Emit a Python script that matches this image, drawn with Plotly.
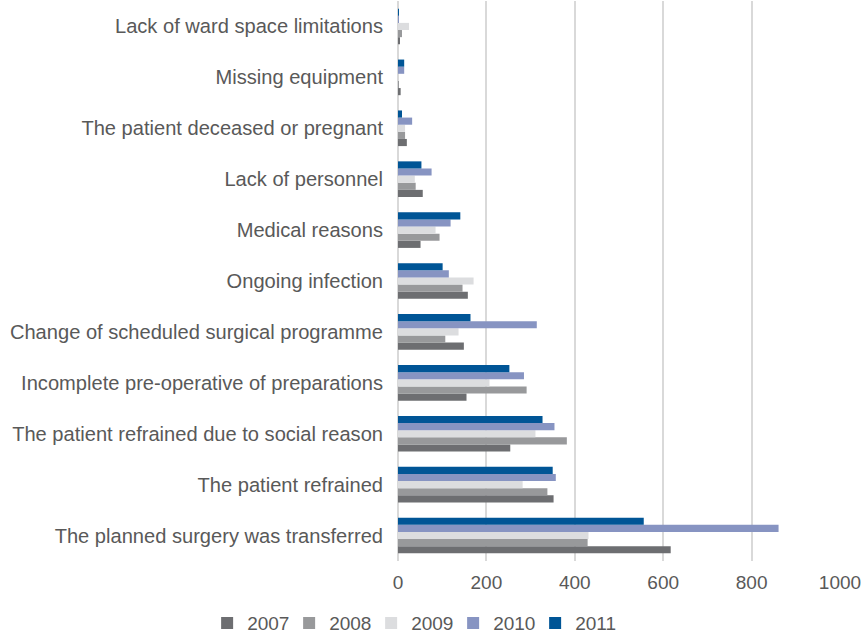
import plotly.graph_objects as go

categories = [
    "The planned surgery was transferred",
    "The patient refrained",
    "The patient refrained due to social reason",
    "Incomplete pre-operative of preparations",
    "Change of scheduled surgical programme",
    "Ongoing infection",
    "Medical reasons",
    "Lack of personnel",
    "The patient deceased or pregnant",
    "Missing equipment",
    "Lack of ward space limitations",
]

v2007 = [617, 352, 254, 155, 149, 158, 51, 56, 20, 6, 4]
v2008 = [429, 338, 382, 291, 107, 146, 94, 40, 16, 2, 9]
v2009 = [431, 282, 311, 207, 137, 171, 85, 38, 16, 0, 25]
v2010 = [861, 357, 354, 285, 314, 115, 119, 76, 32, 14, 1]
v2011 = [556, 350, 327, 252, 164, 101, 141, 53, 9, 14, 1]

years = ["2007", "2008", "2009", "2010", "2011"]
series = [v2007, v2008, v2009, v2010, v2011]
colors = ["#6d6e71", "#98999b", "#dcdddf", "#8794c2", "#005596"]

x_ticks = [0, 200, 400, 600, 800, 1000]

fig = go.Figure()
for name, vals, col in zip(years, series, colors):
    fig.add_trace(go.Bar(
        y=categories, x=vals, name=name, orientation="h",
        marker=dict(color=col, line=dict(width=0)),
    ))

fig.update_layout(
    width=864, height=634,
    barmode="group", bargap=0.3, bargroupgap=0,
    plot_bgcolor="white", paper_bgcolor="white",
    margin=dict(l=398, r=24, t=1, b=73, autoexpand=False),
    font=dict(family="Liberation Sans, Arial, sans-serif", size=19, color="#595959"),
    showlegend=True,
    legend=dict(orientation="h", xref="container", yref="container",
                x=0.477, xanchor="center", y=0.017, yanchor="middle",
                entrywidth=37, entrywidthmode="pixels",
                font=dict(size=19, color="#595959"), traceorder="normal"),
)
fig.update_xaxes(range=[0, 1000], tickvals=x_ticks, showgrid=True,
                 gridcolor="#d9d9d9", gridwidth=2, zeroline=True,
                 zerolinecolor="#d9d9d9", zerolinewidth=2, ticks="",
                 automargin=False, ticklabelstandoff=8,
                 tickfont=dict(size=19, color="#595959"))
fig.update_yaxes(categoryorder="array", categoryarray=categories, ticks="",
                 showgrid=False, automargin=False, range=[-0.5, 10.5],
                 ticklabelstandoff=14,
                 tickfont=dict(size=20.1, color="#595959"))

fig.write_html("out.html", config={"displayModeBar": False},
               post_script="document.body.style.margin='0';")
